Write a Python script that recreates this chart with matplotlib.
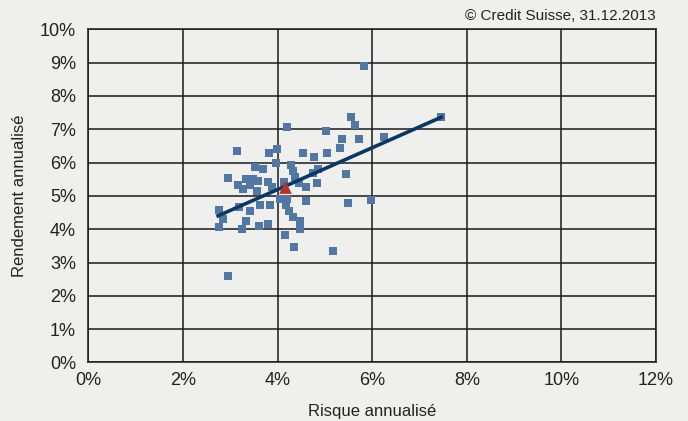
import matplotlib.pyplot as plt
from matplotlib.ticker import FuncFormatter

# risque / rendement annualisés (%)
risque = [5.56, 5.64, 4.20, 5.03, 5.37, 5.73, 5.31, 3.15, 3.99, 3.82,
          4.54, 5.05, 4.77, 3.97, 4.29, 3.53, 3.70, 4.33, 4.86, 4.75,
          5.45, 4.37, 2.96, 3.34, 3.48, 3.59, 3.80, 4.14, 3.17, 3.41,
          4.46, 4.84, 3.27, 3.56, 4.60, 3.87, 4.05, 4.20, 4.60, 5.49,
          5.98, 2.77, 3.19, 3.63, 3.84, 3.42, 4.18, 4.25, 2.85, 4.33,
          4.48, 3.34, 2.77, 3.25, 3.61, 3.80, 4.48, 4.16, 4.35, 5.18,
          2.96, 5.83, 7.46, 6.25]
rendement = [7.36, 7.12, 7.06, 6.94, 6.70, 6.70, 6.44, 6.34, 6.40, 6.28,
             6.28, 6.28, 6.16, 5.98, 5.92, 5.86, 5.80, 5.74, 5.80, 5.69,
             5.65, 5.57, 5.53, 5.50, 5.50, 5.44, 5.41, 5.41, 5.32, 5.32,
             5.38, 5.38, 5.20, 5.14, 5.26, 5.26, 4.90, 4.90, 4.84, 4.78,
             4.87, 4.57, 4.66, 4.72, 4.72, 4.54, 4.72, 4.54, 4.30, 4.36,
             4.24, 4.24, 4.06, 4.00, 4.09, 4.15, 4.00, 3.82, 3.46, 3.34,
             2.58, 8.89, 7.36, 6.76]

moyenne_x = [4.15]
moyenne_y = [5.27]

tendance_x = [2.74, 7.46]
tendance_y = [4.40, 7.36]

bg = '#efefed'
txt = '#222222'
plt.rcParams['font.family'] = ['Liberation Sans', 'DejaVu Sans']

fig = plt.figure(figsize=(6.88, 4.21), dpi=100, facecolor=bg)
ax = fig.add_axes([0.1286, 0.139, 0.8249, 0.7916], facecolor=bg)

ax.grid(True, color='#1a1a1a', linewidth=1.1)
ax.set_axisbelow(True)

ax.scatter(risque, rendement, marker='s', s=36, color='#5277a3', linewidths=0, zorder=3)
ax.plot(tendance_x, tendance_y, color='#0b3763', linewidth=2.6, zorder=4)
ax.scatter(moyenne_x, moyenne_y, marker='^', s=85, color='#b8312b', linewidths=0, zorder=5)

ax.set_xlim(0, 12)
ax.set_ylim(0, 10)
ax.set_xticks(range(0, 13, 2))
ax.set_yticks(range(0, 11, 1))
pct = FuncFormatter(lambda v, p: f'{v:.0f}%')
ax.xaxis.set_major_formatter(pct)
ax.yaxis.set_major_formatter(pct)
ax.tick_params(length=0, labelsize=13, colors=txt)
ax.tick_params(axis='x', pad=7)
ax.tick_params(axis='y', pad=9)
for lab in ax.get_yticklabels():
    lab.set_va('center_baseline')
for s in ax.spines.values():
    s.set_color('#1a1a1a')
    s.set_linewidth(1.1)

ax.set_xlabel('Risque annualisé', fontsize=12, color=txt, labelpad=11)
ax.set_ylabel('Rendement annualisé', fontsize=12, color=txt, labelpad=9)

fig.text(0.9535, 0.962, '© Credit Suisse, 31.12.2013', ha='right', va='center',
         fontsize=11, color=txt)

fig.savefig('out.png', dpi=100, facecolor=bg)
